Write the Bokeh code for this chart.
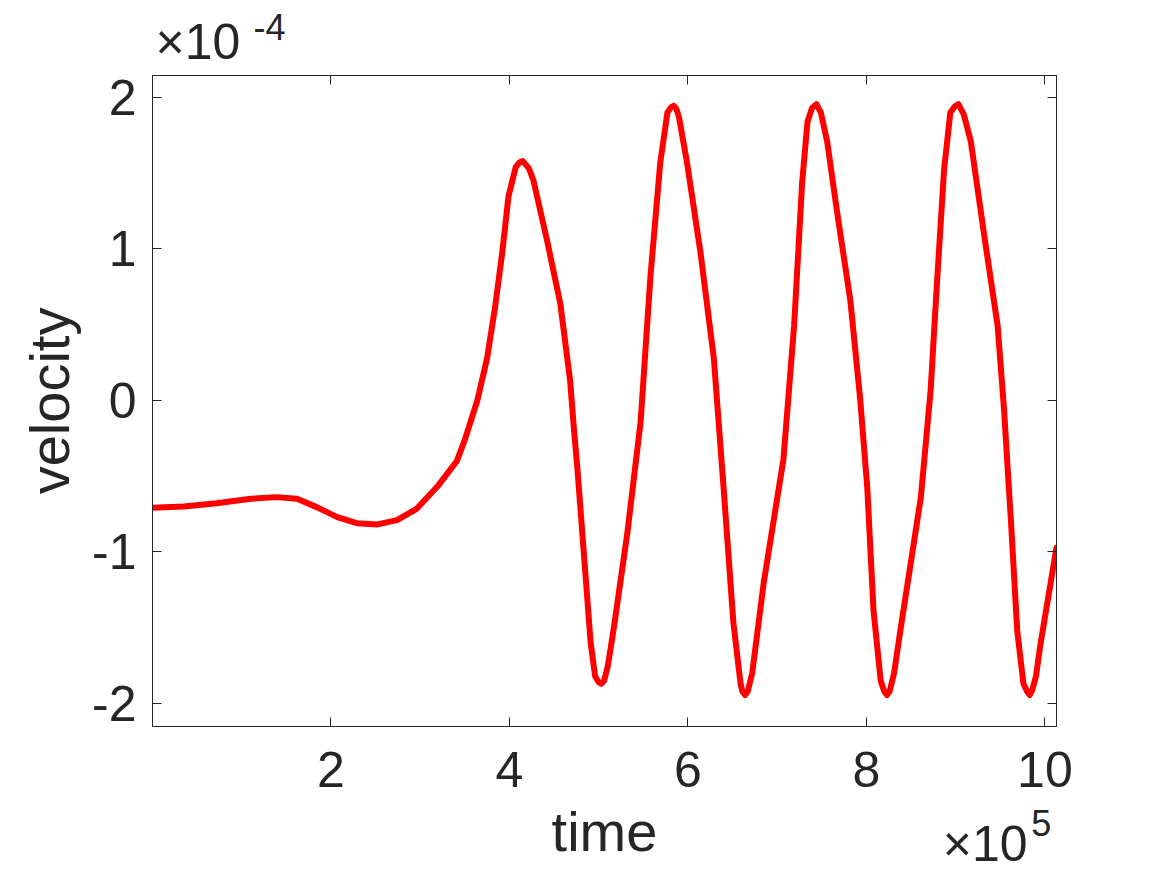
from bokeh.plotting import figure
from bokeh.models import Range1d, FixedTicker, LinearAxis
from bokeh.embed import file_html
from bokeh.resources import INLINE

# ---- data (time in units of 1e5, velocity in units of 1e-4) ----
time_e5 = [0.00, 0.35, 0.72, 1.10, 1.39, 1.62, 1.84, 2.07, 2.29, 2.52,
           2.74, 2.96, 3.19, 3.41, 3.50, 3.64, 3.75, 3.84, 3.92, 3.99,
           4.07, 4.11, 4.15, 4.22, 4.27, 4.42, 4.57, 4.68, 4.72, 4.76,
           4.83, 4.91, 4.96, 5.00, 5.03, 5.06, 5.10, 5.17, 5.32, 5.47,
           5.58, 5.69, 5.77, 5.81, 5.84, 5.87, 5.90, 5.99, 6.14, 6.29,
           6.40, 6.51, 6.59, 6.61, 6.64, 6.67, 6.72, 6.85, 7.07, 7.19,
           7.28, 7.34, 7.39, 7.44, 7.49, 7.56, 7.67, 7.82, 7.93, 8.01,
           8.08, 8.16, 8.20, 8.23, 8.26, 8.31, 8.38, 8.61, 8.72, 8.79,
           8.87, 8.94, 8.99, 9.03, 9.09, 9.17, 9.32, 9.47, 9.54, 9.62,
           9.69, 9.76, 9.80, 9.83, 9.86, 9.90, 9.95, 10.13]
velocity_em4 = [-0.708, -0.700, -0.678, -0.649, -0.638, -0.649, -0.704, -0.770, -0.810, -0.818,
                -0.790, -0.715, -0.570, -0.400, -0.260, 0.000, 0.280, 0.620, 0.980, 1.350,
                1.540, 1.570, 1.580, 1.530, 1.450, 1.060, 0.640, 0.130, -0.170, -0.440,
                -0.980, -1.600, -1.820, -1.860, -1.870, -1.850, -1.760, -1.500, -0.880, -0.140,
                0.820, 1.570, 1.900, 1.935, 1.945, 1.925, 1.870, 1.570, 0.980, 0.280,
                -0.580, -1.470, -1.870, -1.920, -1.944, -1.920, -1.800, -1.200, -0.390, 0.495,
                1.440, 1.840, 1.930, 1.956, 1.900, 1.710, 1.250, 0.660, 0.010, -0.580,
                -1.390, -1.850, -1.920, -1.944, -1.920, -1.800, -1.520, -0.640, 0.070, 0.770,
                1.520, 1.900, 1.940, 1.956, 1.890, 1.710, 1.090, 0.495, -0.040, -0.800,
                -1.520, -1.870, -1.920, -1.944, -1.910, -1.820, -1.610, -0.970]

x_ticks = [2, 4, 6, 8, 10]
x_tick_labels = ["2", "4", "6", "8", "10"]
y_ticks = [-2, -1, 0, 1, 2]
y_tick_labels = ["-2", "-1", "0", "1", "2"]
x_label = "time"
y_label = "velocity"
exp_base = "×10"
x_exponent = "5"
y_exponent = "-4"

x_min, x_max = 0.0, 10.13
y_min, y_max = -2.152, 2.145

FONT = "Liberation Sans"
INK = "#262626"

W, H = 1167, 875
L, T = 152, 75
R, B = W - 1056, H - 726

p = figure(width=W, height=H, output_backend="svg", toolbar_location=None,
           title_location=None,
           x_range=Range1d(x_min, x_max), y_range=Range1d(y_min, y_max),
           min_border_left=L, min_border_right=R, min_border_top=T, min_border_bottom=B)
p.xgrid.visible = False
p.ygrid.visible = False
p.outline_line_color = INK
p.outline_line_width = 1
p.background_fill_color = "white"
p.border_fill_color = "white"

p.line(time_e5, velocity_em4, line_color="#ff0000", line_width=6,
       line_join="round", line_cap="round")


def style_axis(ax, ticks, labels, show_labels):
    ax.ticker = FixedTicker(ticks=ticks)
    ax.major_label_overrides = {t: s for t, s in zip(ticks, labels)}
    ax.axis_line_color = INK
    ax.axis_line_width = 1
    ax.major_tick_line_color = INK
    ax.major_tick_line_width = 1
    ax.major_tick_in = 9
    ax.major_tick_out = 0
    ax.minor_tick_line_color = None
    ax.major_label_text_font = FONT
    ax.major_label_text_font_size = "50px" if show_labels else "2px"
    ax.major_label_text_color = INK if show_labels else None


xa = p.xaxis[0]
ya = p.yaxis[0]
style_axis(xa, x_ticks, x_tick_labels, True)
style_axis(ya, y_ticks, y_tick_labels, True)
xa.major_label_standoff = 25
ya.major_label_standoff = 16
for ax, lab, so in ((xa, x_label, 10), (ya, y_label, 8)):
    ax.axis_label = lab
    ax.axis_label_text_font = FONT
    ax.axis_label_text_font_size = "56px"
    ax.axis_label_text_font_style = "normal"
    ax.axis_label_text_color = INK
    ax.axis_label_standoff = so

top = LinearAxis()
style_axis(top, x_ticks, x_tick_labels, False)
p.add_layout(top, "above")
right = LinearAxis()
style_axis(right, y_ticks, y_tick_labels, False)
p.add_layout(right, "right")


# exponent texts ("×10^-4" above the top-left corner, "×10^5" under the
# bottom-right corner), drawn as the single tick label of bare extra axes
def text_axis(pos, txt, size, standoff, side):
    ax = LinearAxis(ticker=FixedTicker(ticks=[pos]),
                    major_label_overrides={pos: txt})
    ax.axis_line_color = None
    ax.major_tick_line_color = None
    ax.minor_tick_line_color = None
    ax.major_tick_in = 0
    ax.major_tick_out = 0
    ax.major_label_text_font = FONT
    ax.major_label_text_font_size = size
    ax.major_label_text_color = INK
    ax.major_label_standoff = standoff
    p.add_layout(ax, side)


text_axis(0.51, exp_base, "50px", 6, "above")
text_axis(1.31, y_exponent, "36px", -29, "above")
text_axis(9.33, exp_base, "50px", -50, "below")
text_axis(9.96, x_exponent, "36px", -65, "below")

open("out.html", "w").write(file_html(p, INLINE))
